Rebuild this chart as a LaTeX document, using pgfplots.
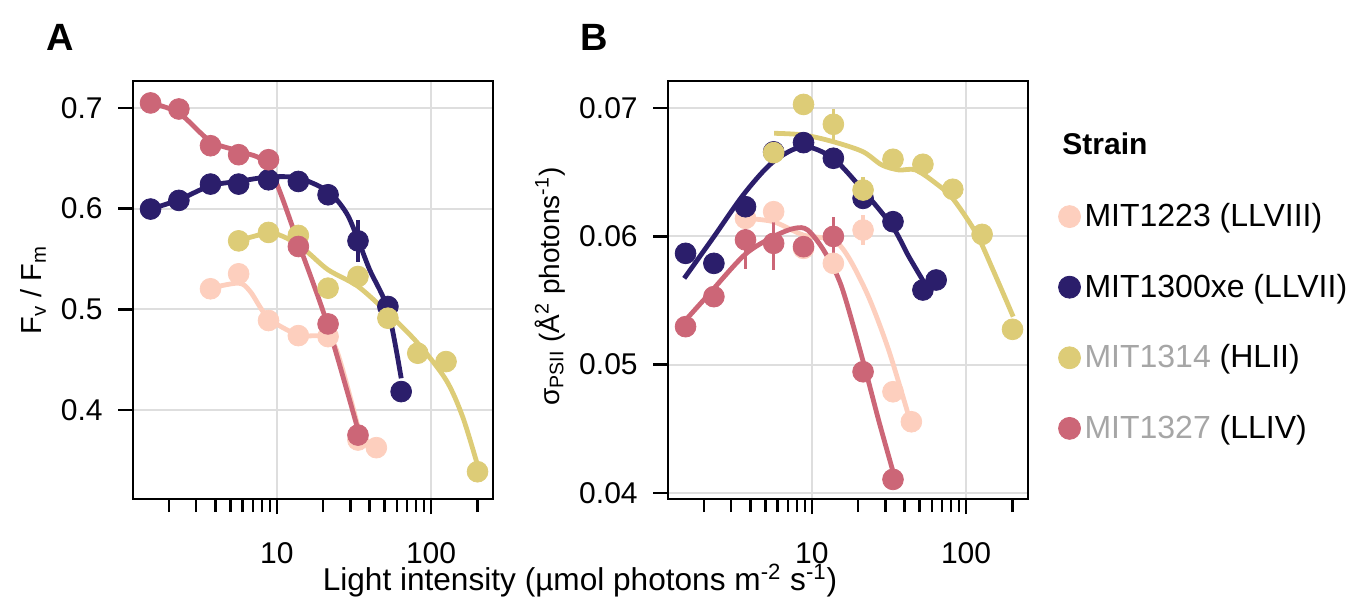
\documentclass[border=0pt]{standalone}
\usepackage{fontspec}
\setmainfont{Liberation Sans}
\usepackage{pgfplots}
\pgfplotsset{compat=1.18}
\definecolor{c1223}{HTML}{FDCFBE}
\definecolor{c1300}{HTML}{2B1E6B}
\definecolor{c1314}{HTML}{DDCC77}
\definecolor{c1327}{HTML}{CC6677}
\definecolor{gridc}{HTML}{DEDEDE}
\definecolor{labgrey}{HTML}{A6A6A6}
\pgfplotsset{
  every axis/.append style={
    scale only axis, width=180pt, height=209pt,
    xmin=1.17, xmax=252,
    xtick={10,100}, xticklabels={10,100},
    minor xtick={2,3,4,5,6,7,8,9,20,30,40,50,60,70,80,90,200},
    tick align=outside, xtick pos=bottom, ytick pos=left,
    major tick length=7.5pt, minor tick length=6.5pt,
    every tick/.append style={black, line width=1.2pt},
    every minor tick/.append style={black, line width=1.2pt},
    axis line style={black, line width=1.4pt},
    grid=major, major grid style={gridc, line width=1pt},
    scaled y ticks=false,
  },
  fitline/.style={line width=2.4pt, no marks, smooth},
  ptmarks/.style={only marks, mark=*, mark size=5.2pt, mark options={draw=none},
    error bars/y dir=both, error bars/y explicit, error bars/error mark=none,
    error bars/error bar style={line width=1.7pt}},
}
\begin{document}
\begin{tikzpicture}
\path[use as bounding box] (0,0) rectangle (681.5pt,302.5pt);

% panel A
\begin{semilogxaxis}[at={(66.5pt,53pt)}, anchor=south west,
  ymin=0.3116, ymax=0.7268,
  ytick={0.4,0.5,0.6,0.7}, yticklabels={0.4,0.5,0.6,0.7},
  xticklabel style={font=\fontsize{15}{17}\selectfont, inner sep=1pt, yshift=-13pt},
  yticklabel style={font=\fontsize{15}{17}\selectfont, inner sep=1pt, xshift=-6.5pt}]
\addplot[fitline, c1223] table {
3.715 0.521
5.657 0.526
6.730 0.5177
8.836 0.4912
13.80 0.4746
19.51 0.4730
24.38 0.4597
34.48 0.3768
};
\addplot[fitline, c1300] table {
1.523 0.5996
2.321 0.6088
3.715 0.6228
5.657 0.6271
8.836 0.6314
13.80 0.6304
21.54 0.6171
28.29 0.5956
33.64 0.5691
40.02 0.5392
52.53 0.4995
64.04 0.4315
};
\addplot[fitline, c1314] table {
5.657 0.5681
8.836 0.5757
11.60 0.5707
15.62 0.5575
21.54 0.5392
33.64 0.5227
52.53 0.4962
82.04 0.4663
125.0 0.4299
160.1 0.3934
200.0 0.3453
};
\addplot[fitline, c1327] table {
1.523 0.705
2.321 0.695
3.715 0.6669
5.657 0.6569
8.836 0.642
13.80 0.5658
21.54 0.4829
33.64 0.3801
};
\addplot[ptmarks, c1223] table[y error index=2] {
3.72 0.5204 0
5.66 0.5353 0
8.84 0.4889 0
13.8 0.4739 0
21.5 0.4729 0
33.6 0.3702 0
44.2 0.3626 0
};
\addplot[ptmarks, c1300] table[y error index=2] {
1.52 0.5996 0
2.32 0.6082 0
3.72 0.6244 0
5.66 0.6244 0
8.84 0.6287 0
13.8 0.6270 0
21.5 0.6138 0
33.6 0.5680 0.021
52.5 0.5028 0
64.0 0.4183 0
};
\addplot[ptmarks, c1314] table[y error index=2] {
5.66 0.5680 0
8.84 0.5764 0
13.8 0.5734 0
21.5 0.5210 0
33.6 0.5326 0
52.5 0.4912 0
82.0 0.4564 0
125 0.4481 0
200 0.3387 0
};
\addplot[ptmarks, c1327] table[y error index=2] {
1.52 0.7050 0
2.32 0.6990 0
3.72 0.6625 0
5.66 0.6536 0
8.84 0.6486 0
13.8 0.5624 0
21.5 0.4855 0
33.6 0.3751 0
};
\end{semilogxaxis}

% panel B
\begin{semilogxaxis}[at={(334pt,53pt)}, anchor=south west,
  ymin=0.03951, ymax=0.07213,
  ytick={0.04,0.05,0.06,0.07}, yticklabels={0.04,0.05,0.06,0.07},
  xticklabel style={font=\fontsize{15}{17}\selectfont, inner sep=1pt, yshift=-13pt},
  yticklabel style={font=\fontsize{15}{17}\selectfont, inner sep=1pt, xshift=-6.5pt},
  legend style={draw=none, fill=none, at={(axis description cs:1.067,0.727)},
    anchor=north west, font=\fontsize{16}{18}\selectfont, row sep=18.2pt,
    /tikz/every even column/.append style={column sep=11pt}},
  legend cell align=left]
\addlegendimage{only marks, mark=*, mark size=5.5pt, c1223}
\addlegendentry{MIT1223 (LLVIII)}
\addlegendimage{only marks, mark=*, mark size=5.5pt, c1300}
\addlegendentry{MIT1300xe (LLVII)}
\addlegendimage{only marks, mark=*, mark size=5.5pt, c1314}
\addlegendentry{\textcolor{labgrey}{MIT1314} (HLII)}
\addlegendimage{only marks, mark=*, mark size=5.5pt, c1327}
\addlegendentry{\textcolor{labgrey}{MIT1327} (LLIV)}
\addplot[fitline, c1223, forget plot] table {
3.66 0.06141
5.64 0.06115
8.82 0.06011
13.7 0.05972
17.2 0.05842
23.3 0.0553
31.5 0.05113
42.6 0.04593
};
\addplot[fitline, c1300, forget plot] table {
1.49 0.05673
2.28 0.05985
3.66 0.06336
5.64 0.06584
8.82 0.06701
13.7 0.0661
21.4 0.06362
33.4 0.06076
42.6 0.05842
58.9 0.05556
};
\addplot[fitline, c1314, forget plot] table {
5.70 0.06805
8.82 0.06792
13.7 0.0674
21.4 0.06662
28.4 0.06558
36.6 0.06519
47.0 0.06519
63.6 0.06415
81.8 0.06297
116.3 0.06024
149.5 0.05738
202 0.05374
};
\addplot[fitline, c1327, forget plot] table {
1.49 0.05335
2.084 0.0553
3.66 0.05855
5.64 0.05998
7.70 0.06063
9.41 0.0605
12.1 0.05881
15.6 0.05608
21.4 0.05035
27.1 0.04567
33.4 0.04177
};
\addplot[ptmarks, c1223, forget plot] table[y error index=2] {
3.72 0.06141 0
5.66 0.06193 0
8.84 0.05907 0
13.8 0.05790 0
21.5 0.06050 0.0012
33.6 0.04788 0
44.2 0.04554 0
};
\addplot[ptmarks, c1300, forget plot] table[y error index=2] {
1.52 0.05868 0.0008
2.32 0.05790 0
3.72 0.06232 0
5.66 0.06660 0
8.84 0.06732 0
13.8 0.06610 0
21.5 0.06297 0
33.6 0.06115 0
52.5 0.05582 0.0007
64.0 0.05660 0
};
\addplot[ptmarks, c1314, forget plot] table[y error index=2] {
5.66 0.06654 0
8.84 0.07030 0
13.8 0.06875 0.0012
21.5 0.06362 0.0010
33.6 0.06602 0
52.5 0.06563 0
82.0 0.06368 0
127 0.06016 0
200 0.05275 0
};
\addplot[ptmarks, c1327, forget plot] table[y error index=2] {
1.52 0.05296 0
2.32 0.05530 0.0008
3.72 0.05973 0.0023
5.66 0.05946 0.0021
8.84 0.05920 0
13.8 0.06000 0.0015
21.5 0.04944 0
33.6 0.04104 0
};
\end{semilogxaxis}

\node[anchor=west, inner sep=0, font=\bfseries\fontsize{15}{17}\selectfont] at (531pt,230.5pt) {Strain};
\node[font=\bfseries\fontsize{19}{21}\selectfont] at (30pt,284pt) {A};
\node[font=\bfseries\fontsize{19}{21}\selectfont] at (297pt,284pt) {B};
\node[rotate=90, anchor=base, font=\fontsize{14.5}{16}\selectfont] at (20.8pt,157.5pt) {F\textsubscript{v} / F\textsubscript{m}};
\node[rotate=90, anchor=base, font=\fontsize{14}{16}\selectfont] at (279.5pt,159.25pt) {σ\textsubscript{PSII} (Å\textsuperscript{2} photons\textsuperscript{-1})};
\node[anchor=base, inner sep=1pt, font=\fontsize{15.8}{17}\selectfont] at (290pt,7.5pt) {Light intensity (µmol photons m\textsuperscript{-2} s\textsuperscript{-1})};
\end{tikzpicture}
\end{document}
